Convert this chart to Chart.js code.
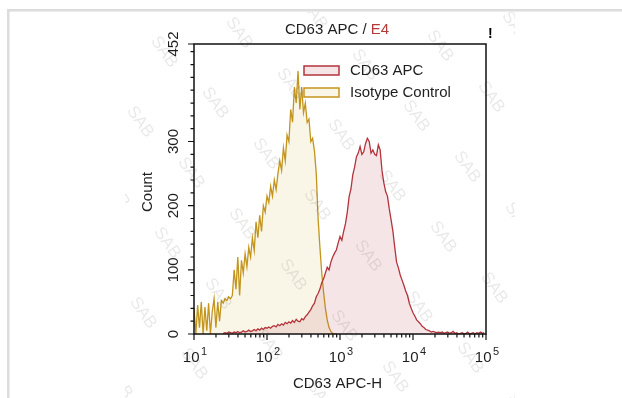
<!DOCTYPE html>
<html><head><meta charset="utf-8">
<script src="https://cdn.jsdelivr.net/npm/chart.js@4"></script>
<style>html,body{margin:0;padding:0;background:#fff}canvas{display:block}</style>
</head><body>
<canvas id="c" width="622" height="398"></canvas>
<script>
// ---- data ----
const seriesNames = ['CD63 APC', 'Isotype Control'];
const binStep = 0.025;            // histogram bin width in log10 units
const isotypeStart = 1.0;         // log10 of first isotype bin
const isotypeCounts = [
  40,0,45,10,50,0,42,5,48,0,
  35,55,10,50,20,52,48,55,52,58,
  55,60,100,70,120,60,115,95,125,105,
  135,120,150,130,175,150,185,160,200,190,
  215,205,230,215,240,225,250,270,255,290,
  270,310,300,350,330,385,360,410,350,385,
  345,360,330,335,300,305,285,250,180,135,
  95,65,40,22,10,4,1,0,0
];
const cd63Start = 1.4;            // log10 of first CD63 bin
const cd63Counts = [
  1,2,1,3,2,1,3,2,4,2,
  3,5,3,4,6,4,5,7,5,8,
  6,9,7,10,9,11,9,12,13,11,
  15,13,16,14,18,16,19,17,21,18,
  23,20,19,24,22,27,30,34,38,44,
  48,58,63,70,80,86,95,104,100,112,
  120,126,131,142,152,146,160,172,190,214,
  226,248,260,276,282,292,280,284,297,305,
  300,282,287,280,278,295,287,255,236,222,
  215,195,178,160,135,112,103,92,84,76,
  67,60,48,40,33,28,22,19,16,12,
  10,7,6,5,3,4,3,2,3,2,
  3,1,2,3,1,2,4,1,2,0,
  1,2,0,1,3,0,1,2,0,2,
  1,3,1,2
];
const xDecades = [1, 2, 3, 4, 5];
const yMajorTicks = [0, 100, 200, 300, 452];
const yMinorStep = 20;
const yMax = 452;
const xTitle = 'CD63 APC-H';
const yTitle = 'Count';
const titleMain = 'CD63 APC / ';
const titleGate = 'E4';
const watermarkText = 'SAB';

// ---- styles ----
const colors = {
  cd63Line: '#b3343c', cd63Fill: 'rgba(190,80,95,0.15)',
  isoLine: '#c4951c', isoFill: 'rgba(220,195,110,0.17)',
  text: '#1e1e1e', gate: '#b8393a', axis: '#111'
};
const FONT = '"Liberation Sans", Arial, sans-serif';

function toPoints(start, counts) {
  return counts.map((c, i) => ({ x: Math.pow(10, start + i * binStep), y: c }));
}

const decor = {
  id: 'decor',
  beforeDraw(chart) {
    const ctx = chart.ctx;
    ctx.save();
    ctx.fillStyle = '#dcdcdc';
    ctx.fillRect(7, 9, chart.width - 7, 2.5);
    ctx.fillRect(7, 9, 2.5, chart.height - 9);
    ctx.restore();
  },
  afterDatasetsDraw(chart) {
    const { ctx, chartArea: a, scales: { x, y } } = chart;
    ctx.save();
    // box
    ctx.strokeStyle = colors.axis;
    ctx.lineWidth = 1.5;
    ctx.strokeRect(a.left, a.top, a.right - a.left, a.bottom - a.top);
    // y ticks
    ctx.lineWidth = 1.2;
    ctx.beginPath();
    for (let v = 0; v <= yMax; v += yMinorStep) {
      const py = y.getPixelForValue(v);
      ctx.moveTo(a.left, py); ctx.lineTo(a.left - 3.5, py);
    }
    yMajorTicks.forEach(v => {
      const py = y.getPixelForValue(v);
      ctx.moveTo(a.left, py); ctx.lineTo(a.left - 6, py);
    });
    // x ticks
    for (let d = xDecades[0]; d < xDecades[xDecades.length - 1]; d++) {
      for (let k = 1; k <= 9; k++) {
        const px = x.getPixelForValue(k * Math.pow(10, d));
        ctx.moveTo(px, a.bottom); ctx.lineTo(px, a.bottom + (k === 1 ? 6 : 3.5));
      }
    }
    const pEnd = x.getPixelForValue(Math.pow(10, xDecades[xDecades.length - 1]));
    ctx.moveTo(pEnd, a.bottom); ctx.lineTo(pEnd, a.bottom + 6);
    ctx.stroke();

    ctx.fillStyle = colors.text;
    // y tick labels (rotated)
    ctx.font = '15px ' + FONT;
    ctx.textAlign = 'center'; ctx.textBaseline = 'middle';
    yMajorTicks.forEach(v => {
      const py = y.getPixelForValue(v);
      ctx.save(); ctx.translate(a.left - 20.5, py); ctx.rotate(-Math.PI / 2);
      ctx.fillText(String(v), 0, 0); ctx.restore();
    });
    // y title
    ctx.save(); ctx.translate(a.left - 46.5, (a.top + a.bottom) / 2 + 3); ctx.rotate(-Math.PI / 2);
    ctx.fillText(yTitle, 0, 0); ctx.restore();
    // x tick labels 10^n
    ctx.textAlign = 'left'; ctx.textBaseline = 'alphabetic';
    xDecades.forEach(d => {
      const px = x.getPixelForValue(Math.pow(10, d));
      ctx.font = '15px ' + FONT;
      const w1 = ctx.measureText('10').width;
      ctx.font = '11px ' + FONT;
      const w2 = ctx.measureText(String(d)).width;
      const start = px + 1 - (w1 + 1.5 + w2) / 2;
      ctx.font = '15px ' + FONT;
      ctx.fillText('10', start, a.bottom + 28);
      ctx.font = '11px ' + FONT;
      ctx.fillText(String(d), start + w1 + 1.5, a.bottom + 21);
    });
    // x title
    ctx.font = '15px ' + FONT;
    ctx.textAlign = 'center';
    ctx.fillText(xTitle, (a.left + a.right) / 2 - 2.5, a.bottom + 54);
    // chart title
    const wMain = ctx.measureText(titleMain).width;
    const wGate = ctx.measureText(titleGate).width;
    const tx = (a.left + a.right) / 2 - 3 - (wMain + wGate) / 2;
    ctx.textAlign = 'left';
    ctx.fillStyle = colors.text;
    ctx.fillText(titleMain, tx, a.top - 10);
    ctx.fillStyle = colors.gate;
    ctx.fillText(titleGate, tx + wMain, a.top - 10);
    // "!" marker
    ctx.fillStyle = '#000';
    ctx.font = 'bold 14px ' + FONT;
    ctx.fillText('!', a.right + 2, a.top - 6);
    // legend
    const lx = a.left + 110;
    const items = [
      { name: seriesNames[0], line: colors.cd63Line, fill: colors.cd63Fill, y: a.top + 22 },
      { name: seriesNames[1], line: colors.isoLine, fill: colors.isoFill, y: a.top + 44 }
    ];
    items.forEach(it => {
      ctx.fillStyle = '#fff';
      ctx.fillRect(lx, it.y, 35, 9);
      ctx.fillStyle = it.fill;
      ctx.fillRect(lx, it.y, 35, 9);
      ctx.strokeStyle = it.line; ctx.lineWidth = 1.5;
      ctx.strokeRect(lx, it.y, 35, 9);
      ctx.fillStyle = colors.text;
      ctx.font = '15px ' + FONT;
      ctx.textAlign = 'left'; ctx.textBaseline = 'alphabetic';
      ctx.fillText(it.name, lx + 46, it.y + 9);
    });
    ctx.restore();
  },
  afterDraw(chart) {
    const ctx = chart.ctx;
    ctx.save();
    ctx.beginPath();
    ctx.rect(125, 12, 390, chart.height - 12);
    ctx.clip();
    ctx.font = '17px ' + FONT;
    ctx.fillStyle = 'rgba(0,0,0,0.09)';
    ctx.textAlign = 'center'; ctx.textBaseline = 'middle';
    for (let i = -12; i <= 14; i++) {
      for (let j = -10; j <= 10; j++) {
        const px = 239 + i * 51 + j * 24;
        const py = 33 + i * 51 - j * 70;
        if (px < 100 || px > 540 || py < -30 || py > chart.height + 30) continue;
        ctx.save(); ctx.translate(px, py); ctx.rotate(0.96);
        ctx.fillText(watermarkText, 0, 0); ctx.restore();
      }
    }
    ctx.restore();
  }
};

new Chart(document.getElementById('c'), {
  type: 'line',
  data: {
    datasets: [
      { label: seriesNames[0], data: toPoints(cd63Start, cd63Counts),
        borderColor: colors.cd63Line, backgroundColor: colors.cd63Fill,
        fill: 'origin', borderWidth: 1.3, pointRadius: 0, tension: 0 },
      { label: seriesNames[1], data: toPoints(isotypeStart, isotypeCounts),
        borderColor: colors.isoLine, backgroundColor: colors.isoFill,
        fill: 'origin', borderWidth: 1.3, pointRadius: 0, tension: 0 }
    ]
  },
  options: {
    responsive: false,
    animation: false,
    layout: { padding: { left: 194, top: 44, right: 136, bottom: 64 } },
    scales: {
      x: { type: 'logarithmic', min: Math.pow(10, xDecades[0]), max: Math.pow(10, xDecades[xDecades.length - 1]), display: false },
      y: { type: 'linear', min: 0, max: yMax, display: false }
    },
    plugins: { legend: { display: false }, tooltip: { enabled: false }, title: { display: false } }
  },
  plugins: [decor]
});
</script>
</body></html>
